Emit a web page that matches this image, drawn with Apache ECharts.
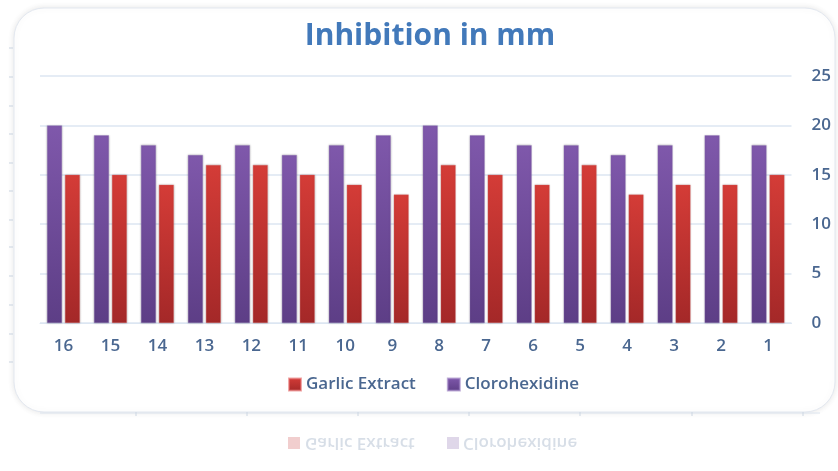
<!DOCTYPE html>
<html><head><meta charset="utf-8">
<script src="https://cdn.jsdelivr.net/npm/echarts@6/dist/echarts.min.js"></script>
<style>html,body{margin:0;padding:0;background:#fff}#c{width:838px;height:471px}</style>
</head><body><div id="c"></div>
<script>
const categories = ['16','15','14','13','12','11','10','9','8','7','6','5','4','3','2','1'];
const clorohexidine = [20,19,18,17,18,17,18,19,20,19,18,18,17,18,19,18];
const garlicExtract = [15,15,14,16,16,15,14,13,16,15,14,16,13,14,14,15];
const yTicks = [0,5,10,15,20,25];

const labelColor = '#4A6790';
const fontFam = '"Open Sans", "Noto Sans", sans-serif';
const purpleGrad = {type:'linear',x:0,y:0,x2:0,y2:1,colorStops:[{offset:0,color:'#7F58AB'},{offset:1,color:'#5D3E86'}]};
const redGrad = {type:'linear',x:0,y:0,x2:0,y2:1,colorStops:[{offset:0,color:'#D43C37'},{offset:1,color:'#A42828'}]};

const deco = [];
deco.push({type:'rect', z:-10, shape:{x:14,y:8,width:821,height:404,r:30}, style:{fill:'#fff', stroke:'#E3E8F0', lineWidth:1, shadowBlur:6, shadowColor:'rgba(0,0,0,0.10)'}});
[48,77,106,134,163,191,220,247,276,305,334,362].forEach(y=>{
  deco.push({type:'line', z:-9, shape:{x1:9,y1:y,x2:13,y2:y}, style:{stroke:'#C9D3E0', lineWidth:1}});
});
deco.push({type:'line', z:-9, shape:{x1:40,y1:413,x2:820,y2:413}, style:{stroke:'#DCE4EE', lineWidth:1}});
[136,247,358,469,580,692,803].forEach(x=>{
  deco.push({type:'line', z:-9, shape:{x1:x,y1:412,x2:x,y2:416}, style:{stroke:'#CCD6E2', lineWidth:1}});
});
// faded mirrored reflection of the legend
deco.push({type:'rect', shape:{x:288,y:437,width:12,height:12}, style:{fill:'rgba(200,60,60,0.25)'}});
deco.push({type:'text', x:305, y:443, scaleY:-1, style:{text:'Garlic Extract', font:'600 17px '+fontFam, fill:'rgba(74,103,144,0.22)', verticalAlign:'middle', textVerticalAlign:'middle'}});
deco.push({type:'rect', shape:{x:447,y:437,width:12,height:12}, style:{fill:'rgba(110,75,155,0.22)'}});
deco.push({type:'text', x:463, y:443, scaleY:-1, style:{text:'Clorohexidine', font:'600 17px '+fontFam, fill:'rgba(74,103,144,0.22)', verticalAlign:'middle', textVerticalAlign:'middle'}});

const chart = echarts.init(document.getElementById('c'));
chart.setOption({
  animation:false,
  backgroundColor:'#fff',
  graphic: deco,
  title:{text:'Inhibition in mm', left:430, textAlign:'center', top:21, padding:0, textStyle:{fontFamily:fontFam, fontSize:30, fontWeight:'bold', color:'#4279BA'}},
  legend:{data:['Garlic Extract','Clorohexidine'], top:376, left:288, padding:0, itemWidth:12, itemHeight:12, itemGap:31, icon:'rect',
    textStyle:{fontFamily:fontFam, fontSize:17, fontWeight:600, color:labelColor}},
  grid:{left:40, right:46.5, top:76, bottom:148, containLabel:false},
  xAxis:{type:'category', data:categories, axisLine:{lineStyle:{color:'#DCE6F2'}}, axisTick:{show:false},
    axisLabel:{fontFamily:fontFam, fontSize:17, fontWeight:600, color:labelColor, margin:15}},
  yAxis:{type:'value', position:'right', min:0, max:25, interval:5, axisLine:{show:false}, axisTick:{show:false},
    splitLine:{lineStyle:{color:'#DCE6F2', width:1.5}},
    axisLabel:{fontFamily:fontFam, fontSize:17, fontWeight:600, color:labelColor, margin:20, formatter:v=>yTicks.includes(v)?String(v):''}},
  series:[
    {name:'Clorohexidine', type:'bar', data:clorohexidine, barGap:'20%', barCategoryGap:'30%',
      itemStyle:{color:purpleGrad, borderColor:'rgba(150,120,190,0.6)', borderWidth:0.5, shadowBlur:2, shadowColor:'rgba(0,0,0,0.25)'}},
    {name:'Garlic Extract', type:'bar', data:garlicExtract,
      itemStyle:{color:redGrad, borderColor:'rgba(230,110,110,0.6)', borderWidth:0.5, shadowBlur:2, shadowColor:'rgba(0,0,0,0.25)'}}
  ]
});
</script></body></html>
